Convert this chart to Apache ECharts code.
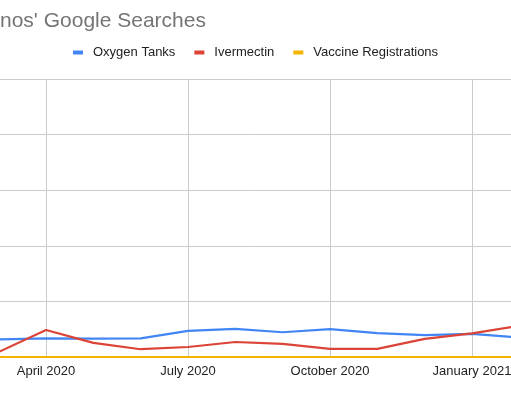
<!DOCTYPE html>
<html>
<head>
<meta charset="utf-8">
<script src="https://cdn.jsdelivr.net/npm/echarts@6/dist/echarts.min.js"></script>
<style>html,body{margin:0;padding:0;background:#fff;}#c{width:511px;height:396px;}</style>
</head>
<body>
<div id="c"></div>
<script>
const months = ['March 2020','April 2020','May 2020','June 2020','July 2020','August 2020','September 2020','October 2020','November 2020','December 2020','January 2021','February 2021'];
const labelIdx = [1, 4, 7, 10];
const oxygenTanks = [6.3, 6.7, 6.6, 6.7, 9.4, 10.1, 8.9, 10.0, 8.6, 7.9, 8.3, 7.0];
const ivermectin = [1.8, 9.7, 5.1, 2.8, 3.6, 5.4, 4.7, 2.9, 2.9, 6.5, 8.5, 11.2];
const vaccineRegistrations = [0, 0, 0, 0, 0, 0, 0, 0, 0, 0, 0, 0];
const yTicks = [0, 20, 40, 60, 80, 100];

const chart = echarts.init(document.getElementById('c'), null, {renderer: 'canvas'});
const font = 'Arial, "Liberation Sans", sans-serif';
chart.setOption({
  animation: false,
  backgroundColor: '#ffffff',
  title: {
    text: "nos' Google Searches",
    left: 0, top: 11, padding: 0,
    textStyle: {fontSize: 21, fontWeight: 'normal', color: '#757575', fontFamily: font}
  },
  legend: {
    left: 73, top: 46, padding: 0,
    icon: 'rect', itemWidth: 10, itemHeight: 4, itemGap: 19,
    textStyle: {fontSize: 13, color: '#222', fontFamily: font, padding: [0, 0, 0, 5]},
    data: ['Oxygen Tanks', 'Ivermectin', 'Vaccine Registrations']
  },
  grid: {left: -1.33, right: -8.33, top: 79, bottom: 39, containLabel: false, outerBoundsMode: 'none'},
  xAxis: {
    type: 'category', data: months, boundaryGap: false,
    axisLine: {show: true, lineStyle: {color: '#ccc'}},
    axisTick: {show: false},
    axisLabel: {
      interval: (i) => labelIdx.includes(i),
      margin: 8, fontSize: 13, color: '#222', fontFamily: font
    },
    splitLine: {show: true, interval: (i) => labelIdx.includes(i), lineStyle: {color: '#ccc', width: 1}}
  },
  yAxis: {
    type: 'value', min: yTicks[0], max: yTicks[yTicks.length - 1], interval: yTicks[1] - yTicks[0],
    axisLine: {show: false}, axisTick: {show: false}, axisLabel: {show: false},
    splitLine: {lineStyle: {color: '#ccc', width: 1}}
  },
  series: [
    {name: 'Oxygen Tanks', type: 'line', data: oxygenTanks, symbol: 'none', itemStyle: {color: '#4285F4'}, lineStyle: {width: 2.2, color: '#4285F4'}},
    {name: 'Ivermectin', type: 'line', data: ivermectin, symbol: 'none', itemStyle: {color: '#DB4437'}, lineStyle: {width: 2.2, color: '#DB4437'}},
    {name: 'Vaccine Registrations', type: 'line', data: vaccineRegistrations, symbol: 'none', itemStyle: {color: '#F4B400'}, lineStyle: {width: 2.2, color: '#F4B400'}}
  ]
});
</script>
</body>
</html>
